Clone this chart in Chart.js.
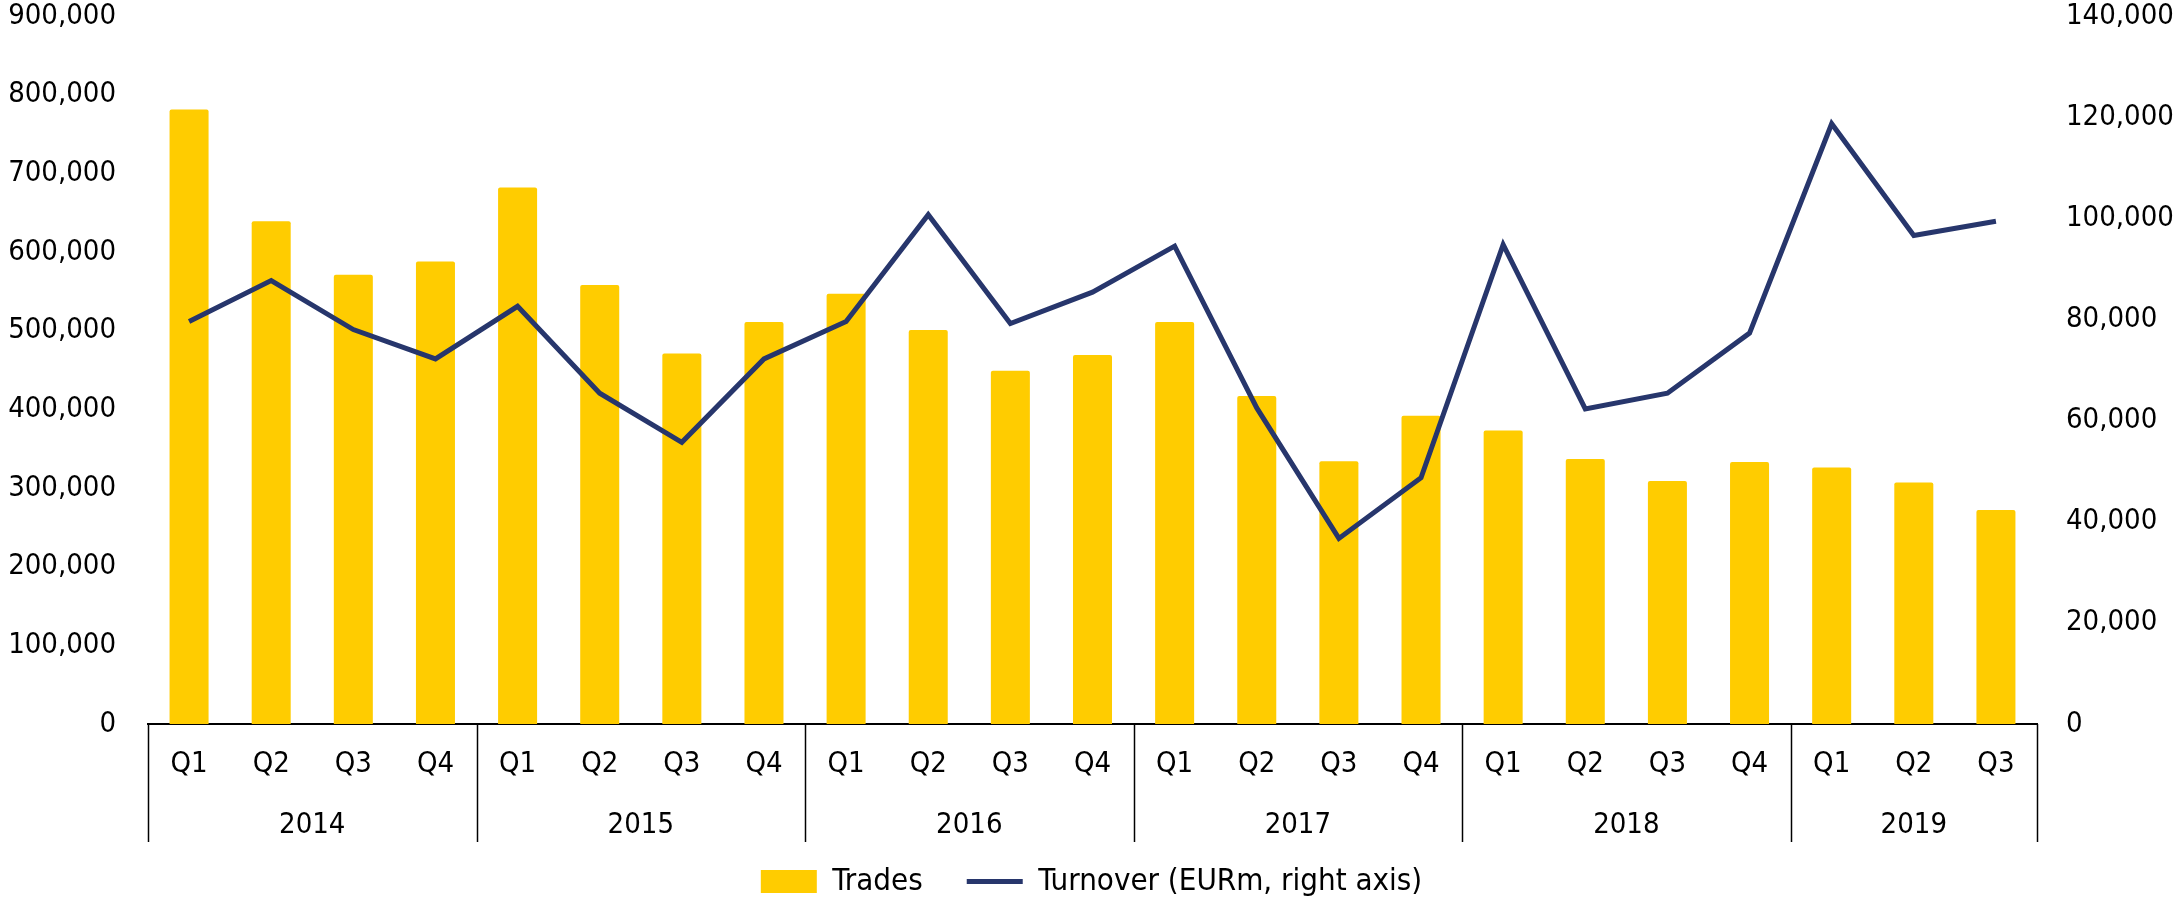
<!DOCTYPE html>
<html>
<head>
<meta charset="utf-8">
<script src="https://cdn.jsdelivr.net/npm/chart.js@4.4.1/dist/chart.umd.min.js"></script>
<style>
  html, body { margin: 0; padding: 0; background: #fff; }
  #wrap { width: 2183px; height: 899px; }
</style>
</head>
<body>
<div id="wrap"><canvas id="tradesChart" width="2183" height="899"></canvas></div>
<script>
// quarterly categories, grouped by year on the axis
const quarters = [
    "Q1", "Q2", "Q3", "Q4",
    "Q1", "Q2", "Q3", "Q4",
    "Q1", "Q2", "Q3", "Q4",
    "Q1", "Q2", "Q3", "Q4",
    "Q1", "Q2", "Q3", "Q4",
    "Q1", "Q2", "Q3"
];
const years = ["2014", "2015", "2016", "2017", "2018", "2019"];
const quartersPerYear = [4, 4, 4, 4, 4, 3];

// number of trades (left axis)
const trades = [
    781000, 639000, 571000, 588000,
    682000, 558000, 471000, 511000,
    547000, 501000, 449000, 469000,
    511000, 417000, 334000, 392000,
    373000, 337000, 309000, 333000,
    326000, 307000, 272000
];

// turnover in EURm (right axis)
const turnover = [
    79600, 87700, 78000, 72200,
    82600, 65400, 55700, 72200,
    79600, 100700, 79200, 85400,
    94500, 62500, 36700, 48700,
    94800, 62300, 65400, 77300,
    118700, 96600, 99400
];

const leftTicks = { max: 900000, step: 100000 };
const rightTicks = { max: 140000, step: 20000 };

const FONT = "'DejaVu Sans Condensed', 'DejaVu Sans', sans-serif";
const TICK_SIZE = 29;

const fmt = v => Number(v).toLocaleString("en-US");

// year labels and separators under the quarter labels
const yearAxis = {
    id: "yearAxis",
    afterDraw(chart) {
        const xs = chart.scales.x;
        const c = chart.ctx;
        const base = chart.chartArea.bottom;

        c.save();
        c.strokeStyle = "#000";
        c.lineWidth = 1.5;
        c.fillStyle = "#000";
        c.font = TICK_SIZE + "px " + FONT;
        c.textAlign = "center";
        c.textBaseline = "middle";

        let start = 0;
        const edges = [0];
        quartersPerYear.forEach((n, i) => {
            const x0 = xs.getPixelForValue(start - 0.5);
            const x1 = xs.getPixelForValue(start + n - 0.5);
            c.fillText(years[i], (x0 + x1) / 2, base + 101);
            start += n;
            edges.push(start);
        });

        edges.forEach(e => {
            const x = Math.round(xs.getPixelForValue(e - 0.5)) + 0.5;
            c.beginPath();
            c.moveTo(x, base);
            c.lineTo(x, base + 118);
            c.stroke();
        });
        c.restore();
    }
};

// fixed axis widths; no extra room reserved above the top tick
const fitSide = w => s => {
    s.width = w;
    s.paddingTop = 0;
    s.paddingBottom = 0;
};

new Chart(document.getElementById("tradesChart"), {

    data: {
        labels: quarters,
        datasets: [
            {
                type: "bar",
                label: "Trades",
                data: trades,
                yAxisID: "y",
                backgroundColor: "#FFCC00",
                borderWidth: 0,
                borderRadius: { topLeft: 2, topRight: 2 },
                borderSkipped: "bottom",
                pointStyle: "rect",
                categoryPercentage: 1,
                barPercentage: 0.475,
                order: 2
            },
            {
                type: "line",
                label: "Turnover (EURm, right axis)",
                data: turnover,
                yAxisID: "y2",
                borderColor: "#27366C",
                backgroundColor: "#27366C",
                borderWidth: 5,
                pointRadius: 0,
                pointStyle: "line",
                tension: 0,
                fill: false,
                order: 1
            }
        ]
    },

    options: {
        responsive: false,
        animation: false,
        layout: {
            padding: { top: 16, left: 0, right: 0, bottom: -8 }
        },
        plugins: {
            tooltip: { enabled: false },
            legend: {
                position: "bottom",
                labels: {
                    font: { family: FONT, size: 31 },
                    color: "#000",
                    usePointStyle: true,
                    pointStyleWidth: 56,
                    boxHeight: 23,
                    padding: 44,
                    sort: (a, b) => a.datasetIndex - b.datasetIndex
                }
            }
        },
        scales: {
            x: {
                type: "category",
                offset: true,
                grid: { display: false },
                border: { display: true, color: "#000", width: 2 },
                ticks: {
                    font: { family: FONT, size: TICK_SIZE },
                    color: "#000",
                    padding: 15,
                    maxRotation: 0,
                    autoSkip: false
                },
                afterFit: s => { s.height = 98; }
            },
            y: {
                position: "left",
                min: 0,
                max: leftTicks.max,
                grid: { display: false },
                border: { display: false },
                ticks: {
                    stepSize: leftTicks.step,
                    font: { family: FONT, size: TICK_SIZE },
                    color: "#000",
                    padding: 24,
                    callback: v => fmt(v)
                },
                afterFit: fitSide(148)
            },
            y2: {
                position: "right",
                min: 0,
                max: rightTicks.max,
                grid: { display: false },
                border: { display: false },
                ticks: {
                    stepSize: rightTicks.step,
                    font: { family: FONT, size: TICK_SIZE },
                    color: "#000",
                    padding: 21,
                    callback: v => fmt(v)
                },
                afterFit: fitSide(146)
            }
        }
    },

    plugins: [yearAxis]

});
</script>
</body>
</html>
